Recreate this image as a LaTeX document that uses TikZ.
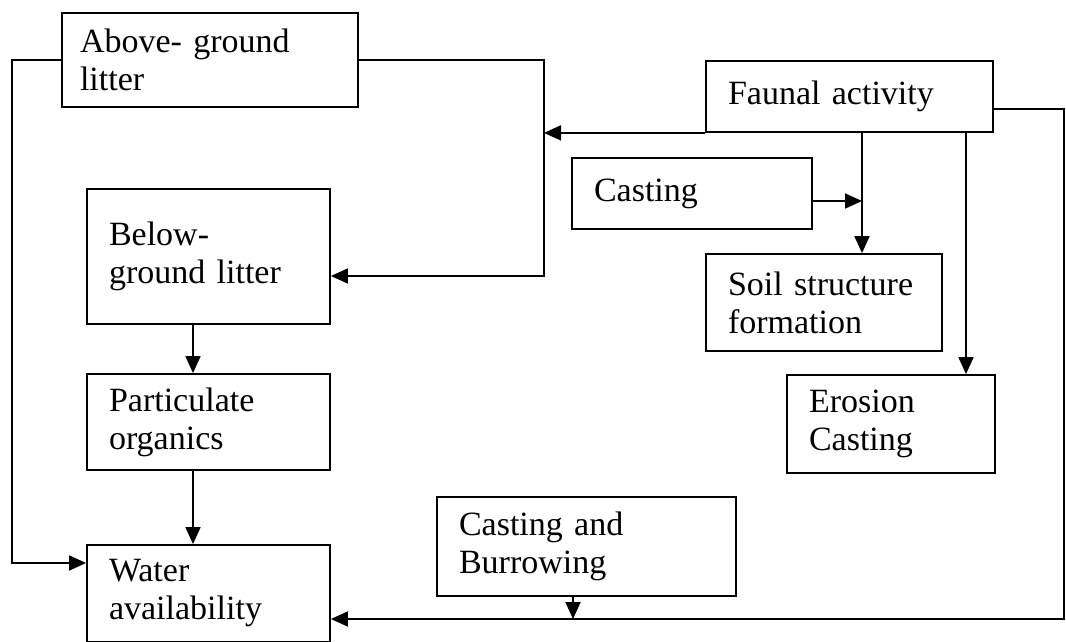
\documentclass[tikz,border=0pt]{standalone}
\usepackage{fontspec}
\setmainfont{Liberation Serif}
\usetikzlibrary{arrows.meta}

\begin{document}
\begin{tikzpicture}[x=1pt,y=-1pt]
\tikzset{box/.style={draw,rectangle,line width=1.8pt,align=left,inner xsep=22pt,inner ysep=0pt,font=\fontsize{34}{38}\selectfont}}
\tikzset{flow/.style={line width=1.8pt,-{Triangle[length=17pt,width=15pt]}}}

\fill[white] (0,0) rectangle (1066,642);
\useasboundingbox (0,0) rectangle (1066,642);

\node[box,inner xsep=18pt,text width=260pt,minimum height=94pt] (above) at (210,60) {Above- ground\\litter};
\node[box,text width=243pt,minimum height=71pt] (faunal) at (849.5,96.5) {Faunal activity};
\node[box,text width=196pt,minimum height=71pt] (casting) at (692,193.5) {Casting};
\node[box,text width=199pt,minimum height=135pt] (below) at (208.5,256.5) {Below-\\ground litter};
\node[box,text width=192pt,minimum height=97pt] (soil) at (824,302.5) {Soil structure\\formation};
\node[box,text width=199pt,minimum height=96pt] (partic) at (208.5,422) {Particulate\\organics};
\node[box,text width=164pt,minimum height=98pt] (erosion) at (891,424) {Erosion\\Casting};
\node[box,text width=255pt,minimum height=99pt] (burrow) at (586.5,546.5) {Casting and\\Burrowing};
\node[box,text width=199pt,minimum height=97pt] (water) at (208.5,593.5) {Water\\availability};

\coordinate (lt) at (12,60);
\coordinate (lb) at (12,563);
\coordinate (rt) at (544,60);
\coordinate (rb) at (544,276);
\coordinate (ft) at (1064,109);
\coordinate (fb) at (1064,619);
\coordinate (sj) at (862,201);
\coordinate (ej) at (966,300);
\coordinate (lx) at (193,0);
\coordinate (bx) at (573,0);

\draw[flow] (above.west) -- (lt) -- (lb) -- (lb -| water.west);
\draw[flow] (above.east) -- (rt) -- (rb) -- (rb -| below.east);
\draw[flow] (faunal.south west) -- (faunal.south west -| rt);
\draw[flow] (faunal.east |- ft) -- (ft) -- (fb) -- (fb -| water.east);
\draw[flow] (faunal.south -| sj) -- (soil.north -| sj);
\draw[flow] (casting.east |- sj) -- (sj);
\draw[flow] (faunal.south -| ej) -- (erosion.north -| ej);
\draw[flow] (below.south -| lx) -- (partic.north -| lx);
\draw[flow] (partic.south -| lx) -- (water.north -| lx);
\draw[flow] (burrow.south -| bx) -- (fb -| bx);

\end{tikzpicture}
\end{document}
